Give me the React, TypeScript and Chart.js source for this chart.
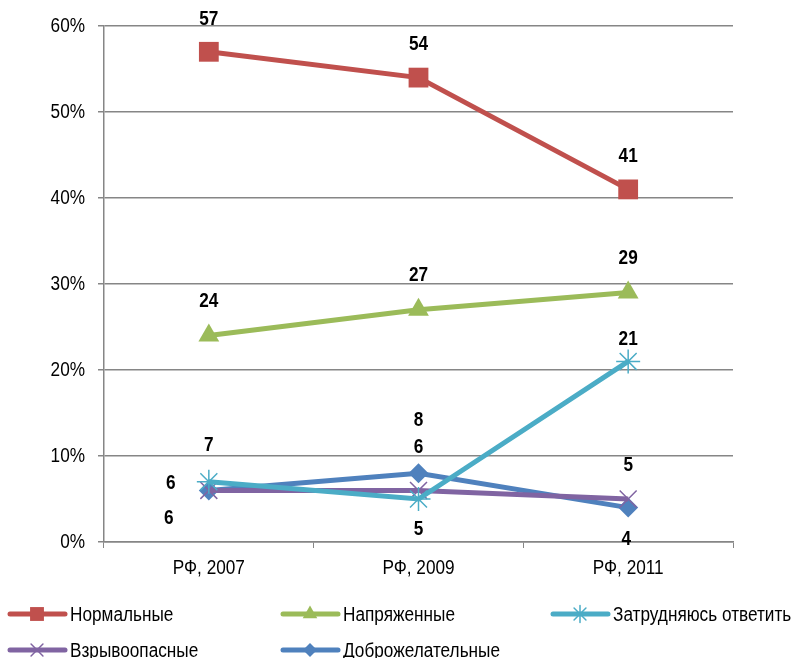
import React, { useEffect, useRef } from "react";
import { Chart, registerables } from "chart.js";

Chart.register(...registerables);

const categories = ["РФ, 2007", "РФ, 2009", "РФ, 2011"];
const seriesNames = ["Нормальные", "Напряженные", "Затрудняюсь ответить", "Взрывоопасные", "Доброжелательные"];
const normal = [57, 54, 41];
const tense = [24, 27, 29];
const hardToSay = [7, 5, 21];
const explosive = [6, 6, 5];
const friendly = [6, 8, 4];
const yTicks = [0, 10, 20, 30, 40, 50, 60];

const colors = ["#C0504D", "#9BBB59", "#4BACC6", "#8064A2", "#4F81BD"];
const pointStyles = ["rect", "triangle", "star", "crossRot", "rectRot"];
const pointRadii = [14, 12, 12, 12, 10];
// label offsets [dx, dy] relative to each point
const labelOffsets = [
  [[0, -32], [0, -33], [0, -33]],
  [[0, -34], [0, -34], [0, -34]],
  [[0, -36], [0, 30], [0, -22]],
  [[-38, -7], [0, -43], [0, -34]],
  [[-40, 28], [0, -53], [-2, 32]],
];

const FONT = "'Liberation Sans', Arial, sans-serif";
const NARROW = 0.86;

function narrowText(ctx: CanvasRenderingContext2D, text: string, x: number, y: number) {
  ctx.save();
  ctx.translate(x, y);
  ctx.scale(NARROW, 1);
  ctx.fillText(text, 0, 0);
  ctx.restore();
}

function drawMarker(ctx: CanvasRenderingContext2D, style: string, x: number, y: number, r: number, color: string) {
  ctx.save();
  ctx.fillStyle = color;
  ctx.strokeStyle = color;
  ctx.lineWidth = 1.5;
  ctx.beginPath();
  if (style === "rect") {
    const s = r * Math.SQRT1_2;
    ctx.rect(x - s, y - s, 2 * s, 2 * s);
    ctx.fill();
  } else if (style === "triangle") {
    ctx.moveTo(x, y - r);
    ctx.lineTo(x + r * 0.866, y + r * 0.5);
    ctx.lineTo(x - r * 0.866, y + r * 0.5);
    ctx.closePath();
    ctx.fill();
  } else if (style === "rectRot") {
    ctx.moveTo(x, y - r);
    ctx.lineTo(x + r, y);
    ctx.lineTo(x, y + r);
    ctx.lineTo(x - r, y);
    ctx.closePath();
    ctx.fill();
  } else {
    const d = r * Math.SQRT1_2;
    ctx.moveTo(x - d, y - d);
    ctx.lineTo(x + d, y + d);
    ctx.moveTo(x - d, y + d);
    ctx.lineTo(x + d, y - d);
    if (style === "star") {
      ctx.moveTo(x, y - r);
      ctx.lineTo(x, y + r);
    }
    ctx.stroke();
  }
  ctx.restore();
}

const tickLabelPlugin = {
  id: "tickLabels",
  afterDraw(chart: any) {
    const ctx = chart.ctx as CanvasRenderingContext2D;
    const xs = chart.scales.x;
    const ys = chart.scales.y;
    ctx.save();
    ctx.font = `20px ${FONT}`;
    ctx.fillStyle = "#000";
    ctx.textBaseline = "middle";
    ctx.textAlign = "right";
    yTicks.forEach((v) => {
      narrowText(ctx, v + "%", 85, ys.getPixelForValue(v));
    });
    ctx.textAlign = "center";
    categories.forEach((c, i) => {
      narrowText(ctx, c, xs.getPixelForValue(i), chart.chartArea.bottom + 26);
    });
    ctx.restore();
  },
};

const labelPlugin = {
  id: "valueLabels",
  afterDatasetsDraw(chart: any) {
    const ctx = chart.ctx as CanvasRenderingContext2D;
    ctx.save();
    ctx.font = `bold 20px ${FONT}`;
    ctx.fillStyle = "#000";
    ctx.textAlign = "center";
    ctx.textBaseline = "middle";
    chart.data.datasets.forEach((ds: any, di: number) => {
      const meta = chart.getDatasetMeta(di);
      meta.data.forEach((pt: any, i: number) => {
        const [dx, dy] = labelOffsets[di][i];
        narrowText(ctx, String(ds.data[i]), pt.x + dx, pt.y + dy);
      });
    });
    ctx.restore();
  },
};

const legendPlugin = {
  id: "customLegend",
  afterDraw(chart: any) {
    const ctx = chart.ctx as CanvasRenderingContext2D;
    const cols = [10, 283, 553];
    const rows = [614, 650];
    ctx.save();
    ctx.font = `20px ${FONT}`;
    ctx.textBaseline = "middle";
    ctx.textAlign = "left";
    chart.data.datasets.forEach((ds: any, di: number) => {
      const x = cols[di % 3];
      const y = rows[Math.floor(di / 3)];
      ctx.strokeStyle = colors[di];
      ctx.lineWidth = 5;
      ctx.lineCap = "round";
      ctx.beginPath();
      ctx.moveTo(x, y);
      ctx.lineTo(x + 55, y);
      ctx.stroke();
      drawMarker(ctx, pointStyles[di], x + 27, y, pointRadii[di] * 0.7, colors[di]);
      ctx.fillStyle = "#000";
      narrowText(ctx, ds.label, x + 60, y + 1);
    });
    ctx.restore();
  },
};

export default function App() {
  const ref = useRef<HTMLCanvasElement | null>(null);
  useEffect(() => {
    document.body.style.margin = "0";
    const seriesData = [normal, tense, hardToSay, explosive, friendly];
    const chart = new Chart(ref.current as HTMLCanvasElement, {
      type: "line",
      data: {
        labels: categories,
        datasets: seriesData.map((d, i) => ({
          label: seriesNames[i],
          data: d,
          borderColor: colors[i],
          backgroundColor: colors[i],
          borderWidth: 5,
          pointStyle: pointStyles[i] as any,
          pointRadius: pointRadii[i],
          pointBorderWidth: pointStyles[i] === "star" || pointStyles[i] === "crossRot" ? 1.5 : 0,
          pointBackgroundColor: colors[i],
          pointBorderColor: colors[i],
          tension: 0,
          fill: false,
        })),
      },
      options: {
        responsive: false,
        animation: false,
        devicePixelRatio: 1,
        layout: { padding: { left: 0, top: 26, right: 63, bottom: 0 } },
        plugins: { legend: { display: false }, tooltip: { enabled: false } },
        scales: {
          x: {
            offset: true,
            grid: { drawOnChartArea: false, drawTicks: true, tickLength: 6, color: "#868686", offset: true },
            border: { color: "#868686", width: 1.5 },
            ticks: { display: false },
            afterFit: (s: any) => { s.height = 116; },
          },
          y: {
            min: 0,
            max: 60,
            afterBuildTicks: (s: any) => { s.ticks = yTicks.map((v) => ({ value: v })); },
            grid: { color: "#868686", lineWidth: 1.5, tickLength: 6 },
            border: { color: "#868686", width: 1.5 },
            ticks: { display: false },
            afterFit: (s: any) => { s.width = 104; },
          },
        },
      },
      plugins: [labelPlugin, tickLabelPlugin, legendPlugin],
    });
    return () => chart.destroy();
  }, []);
  return <canvas ref={ref} width={796} height={658} style={{ display: "block" }} />;
}
